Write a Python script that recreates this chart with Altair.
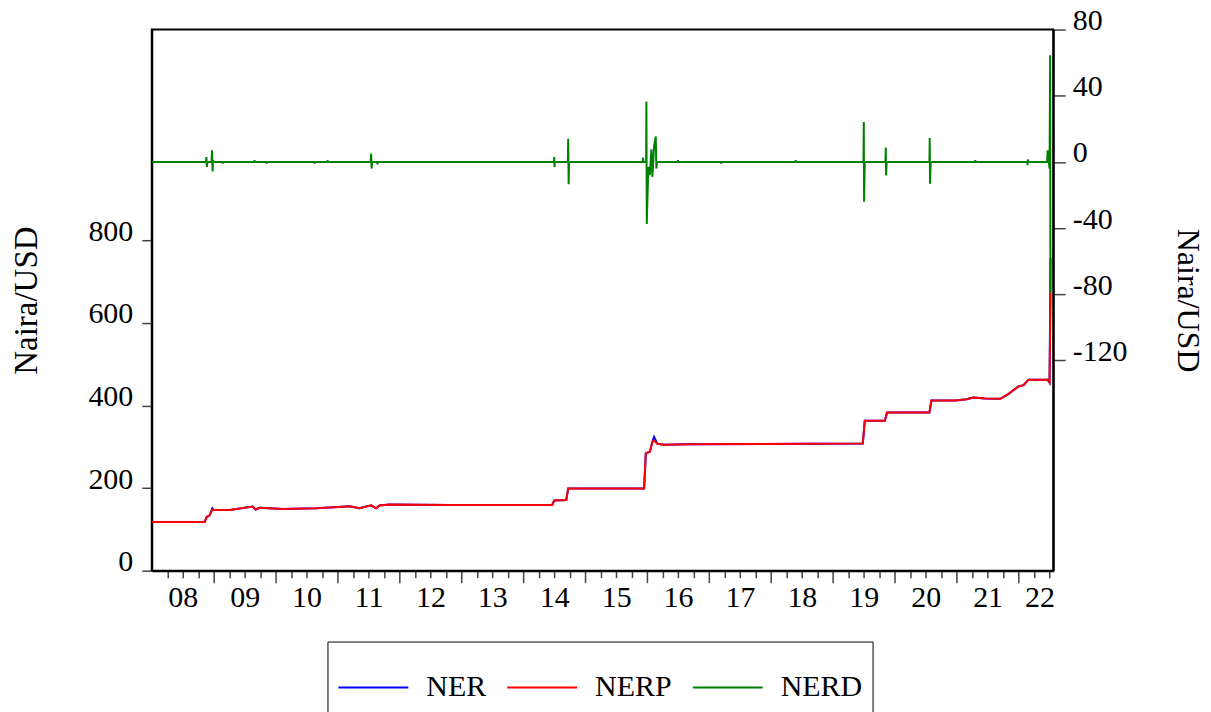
import json
import altair as alt
import pandas as pd

FONT = "Liberation Serif"
SERIES = ["NER", "NERP", "NERD"]
COLORS = ["#0000FF", "#FF0000", "#008000"]

left_ticks = [0, 200, 400, 600, 800]
right_ticks = [-120, -80, -40, 0, 40, 80]
year_labels = ["08", "09", "10", "11", "12", "13", "14", "15",
               "16", "17", "18", "19", "20", "21", "22"]
quarter_ticks = [2008.25 + 0.25 * i for i in range(58)]

# time in decimal years
t_ner = [2008.0, 2008.855, 2008.887, 2008.935, 2008.979, 2009.0, 2009.26,
         2009.527, 2009.63, 2009.677, 2009.742, 2010.113, 2010.656, 2011.08,
         2011.194, 2011.355, 2011.544, 2011.624, 2011.677, 2011.839, 2012.806,
         2014.468, 2014.5, 2014.694, 2014.726, 2015.952, 2015.979, 2016.044,
         2016.086, 2016.113, 2016.166, 2016.27, 2016.677, 2019.484, 2019.516,
         2019.839, 2019.876, 2020.56, 2020.592, 2020.98, 2021.16, 2021.27,
         2021.46, 2021.705, 2021.84, 2022.0, 2022.08, 2022.16, 2022.47,
         2022.5, 2022.516]
ner = [118, 118, 130, 134, 151, 147, 147,
       153, 155, 148, 152, 149, 151, 155,
       156, 151, 158, 151, 158, 160, 159,
       159, 170, 171, 199, 199, 284, 288,
       312, 324, 307, 305, 306, 308, 363,
       363, 383, 383, 412, 412, 415, 419,
       417, 416, 428, 446, 449, 462, 462,
       455, 757]
nerp = [118, 118, 130, 134, 148, 147, 147,
        153, 155, 148, 152, 149, 151, 155,
        156, 151, 158, 151, 158, 160, 159,
        159, 170, 171, 199, 199, 284, 288,
        312, 315, 307, 305, 306, 308, 363,
        363, 383, 383, 412, 412, 415, 419,
        417, 416, 428, 446, 449, 462, 462,
        455, 672]

t_nerd = [2008.0, 2008.875, 2008.882, 2008.89, 2008.9,
          2008.965, 2008.973, 2008.982, 2008.99, 2009.0,
          2009.14, 2009.145, 2009.15,
          2009.655, 2009.66, 2009.665,
          2009.85, 2009.855, 2009.86,
          2010.625, 2010.63, 2010.635,
          2010.835, 2010.84, 2010.845,
          2011.535, 2011.544, 2011.55, 2011.56,
          2011.64, 2011.645, 2011.65,
          2014.495, 2014.5, 2014.505, 2014.51,
          2014.72, 2014.726, 2014.733, 2014.74,
          2015.93, 2015.935, 2015.94,
          2015.984, 2015.989, 2015.995, 2016.02, 2016.044, 2016.07,
          2016.086, 2016.113, 2016.14, 2016.15, 2016.16,
          2016.495, 2016.5, 2016.505,
          2017.195, 2017.2, 2017.205,
          2018.395, 2018.4, 2018.405,
          2019.495, 2019.5, 2019.505, 2019.515,
          2019.85, 2019.855, 2019.86, 2019.87,
          2020.56, 2020.565, 2020.57, 2020.58,
          2021.295, 2021.3, 2021.305,
          2022.14, 2022.145, 2022.15, 2022.16,
          2022.46, 2022.47, 2022.5, 2022.51, 2022.515]
nerd = [0, 0, 3, -3, 0,
        0, 7, -5.7, 1, 0,
        0, -1, 0,
        0, 1, 0,
        0, -1, 0,
        0, -1, 0,
        0, 1, 0,
        0, 5, -4, 0,
        0, -1.5, 0,
        0, 3, -3, 0,
        0, 14, -13.5, 0,
        0, 2.6, 0,
        0, 36.5, -37.5, -3, -8, 7.6,
        -9, 9.6, 15.4, -4, 0,
        0, 1, 0,
        0, -1, 0,
        0, 1, 0,
        0, 24.2, -24, 0,
        0, 8.7, -8.1, 0,
        0, 14.5, -13.2, 0,
        0, 1, 0,
        0, -2, 1.5, 0,
        0, 7, -4, 64.5, -79]

df_ner = pd.DataFrame({"t": t_ner, "value": ner, "series": "NER"})
df_nerp = pd.DataFrame({"t": t_ner, "value": nerp, "series": "NERP"})
df_nerd = pd.DataFrame({"t": t_nerd, "value": nerd, "series": "NERD"})

label_expr = ("datum.value % 1 == 0.5 ? " + json.dumps(year_labels)
              + "[floor(datum.value) - 2008] : ''")

x_enc = alt.X(
    "t:Q",
    scale=alt.Scale(domain=[2008.0, 2022.56], nice=False, zero=False),
    axis=alt.Axis(
        values=quarter_ticks,
        labelExpr=label_expr,
        tickSize={"condition": {"test": "datum.value % 1 == 0", "value": 12}, "value": 7},
        labelOffset={"condition": {"test": "datum.value > 2022.4", "value": -10}, "value": 0},
        labelPadding=5,
        labelOverlap=False,
        labelFlush=False,
        grid=False,
    ),
    title=None,
)

legend = alt.Legend(
    orient="none", legendX=176, legendY=613, direction="horizontal",
    title=None, strokeColor="black", padding=10,
    symbolType="stroke", symbolSize=4900, symbolStrokeWidth=2,
    labelFont=FONT, labelFontSize=30, labelColor="black",
    labelOffset=17, columnPadding=17, labelLimit=0,
)
color_enc = alt.Color("series:N", scale=alt.Scale(domain=SERIES, range=COLORS),
                      legend=legend)

y_left = alt.Y(
    "value:Q",
    scale=alt.Scale(domain=[0, 1310], nice=False, zero=False),
    axis=alt.Axis(
        orient="left", values=left_ticks, tickSize=10, labelPadding=9,
        labelBaseline="alphabetic", grid=False,
        titleAngle=270, titleX=-125, titleY=271, titleBaseline="middle",
        titleAlign="center", titleFontSize=33,
    ),
    title="Naira/USD",
)
y_right = alt.Y(
    "value:Q",
    scale=alt.Scale(domain=[-247, 80], nice=False, zero=False),
    axis=alt.Axis(
        orient="right", values=right_ticks, tickSize=12, labelPadding=7,
        labelBaseline="alphabetic", grid=False,
        labelExpr="datum.value < 0 ? '-' + abs(datum.value) : '' + datum.value",
        titleAngle=90, titleX=134, titleY=271, titleBaseline="middle",
        titleAlign="center", titleFontSize=32,
    ),
    title="Naira/USD",
)

ner_line = alt.Chart(df_ner).mark_line(strokeWidth=2, clip=True).encode(
    x=x_enc, y=y_left, color=color_enc)
nerp_line = alt.Chart(df_nerp).mark_line(strokeWidth=2, clip=True).encode(
    x=x_enc, y=y_left, color=color_enc)
left = alt.layer(ner_line, nerp_line)
nerd_line = alt.Chart(df_nerd).mark_line(strokeWidth=2, clip=True).encode(
    x=x_enc, y=y_right, color=color_enc)

chart = (
    alt.layer(left, nerd_line)
    .resolve_scale(y="independent")
    .properties(
        width=903, height=542,
        autosize=alt.AutoSizeParams(type="none"),
        padding={"left": 144, "top": 21, "right": 150, "bottom": 150},
    )
    .configure(font=FONT, background="white")
    .configure_view(stroke="black", strokeWidth=2)
    .configure_axis(
        labelFont=FONT, labelFontSize=30, labelColor="black",
        titleFont=FONT, titleFontSize=30, titleFontWeight="normal", titleColor="black",
        domainColor="black", domainWidth=2, tickColor="#444", tickWidth=1.5,
    )
)

chart.save("out.html", embed_options={"renderer": "svg", "actions": False})
